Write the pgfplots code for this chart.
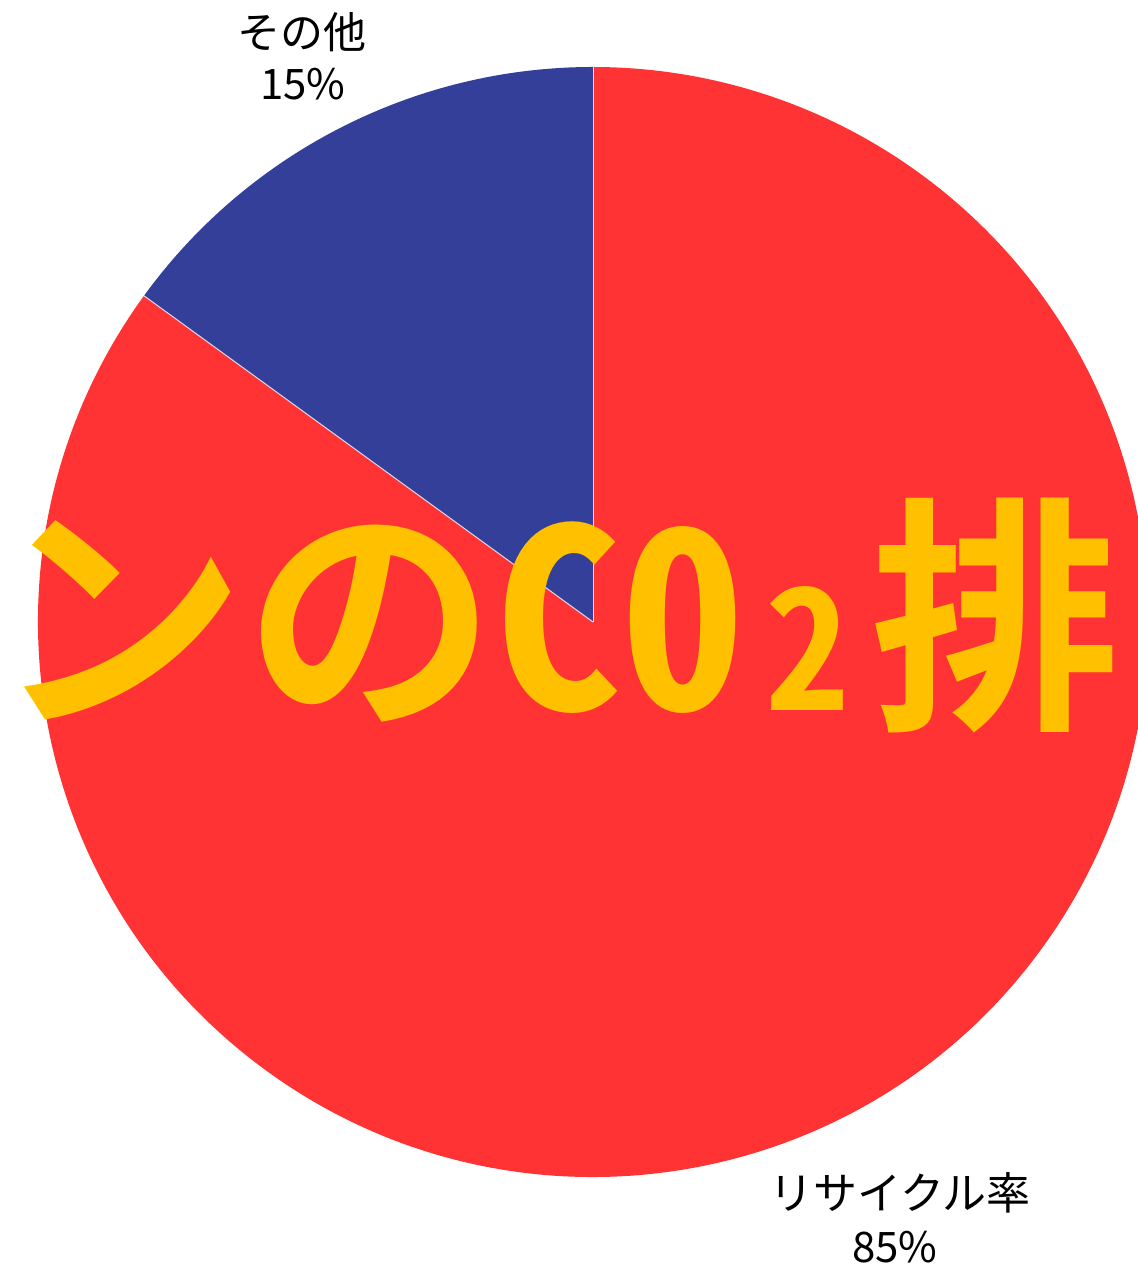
\documentclass[border=0pt]{standalone}
\usepackage{fontspec}
\setmainfont{Noto Sans CJK JP}[BoldFont={Noto Sans CJK JP Bold}]
\usepackage{pgfplots}
\usepackage{pgfplotstable}
\pgfplotsset{compat=1.18}

\definecolor{pieblue}{HTML}{333F99}
\definecolor{piered}{HTML}{FF3333}
\definecolor{bigyellow}{HTML}{FFC000}

% share of each slice, in percent, starting at 12 o'clock, counter-clockwise
\pgfplotstableread[col sep=comma]{
label,value
その他,15
リサイクル率,85
}\piedata

\begin{document}
\begin{tikzpicture}
\pgfplotstablegetelem{0}{value}\of\piedata \let\vA\pgfplotsretval
\pgfplotstablegetelem{1}{value}\of\piedata \let\vB\pgfplotsretval
\pgfmathsetmacro\aA{90+3.6*\vA}
\pgfmathsetmacro\aB{\aA+3.6*\vB}
\begin{axis}[
    scale only axis, width=568.5pt, height=634.5pt,
    xmin=0, xmax=1137, ymin=0, ymax=1269,
    axis lines=none, clip=false]
% pie: centre (593,647), radius 555 units = 277.5pt
\fill[pieblue] (axis cs:593,647) -- ++(90:277.5pt) arc[start angle=90, end angle=\aA, radius=277.5pt] -- cycle;
\fill[piered] (axis cs:593,647) -- ++(\aA:277.5pt) arc[start angle=\aA, end angle=\aB, radius=277.5pt] -- cycle;
\draw[white!80!pieblue, line width=0.5pt] (axis cs:593,647) -- ++(90:277.5pt);
\draw[white!80!pieblue, line width=0.5pt] (axis cs:593,647) -- ++(\aA:277.5pt);
% slice labels
\node[anchor=base, inner sep=0pt, font=\fontsize{21.5}{21.5}\selectfont] at (axis cs:302,1220) {その他};
\node[anchor=base, inner sep=0pt, font=\fontsize{21}{21}\selectfont] at (axis cs:303,1169) {\vA\%};
\node[anchor=base, inner sep=0pt, font=\fontsize{22}{22}\selectfont] at (axis cs:900,59) {リサイクル率};
\node[anchor=base, inner sep=0pt, font=\fontsize{21}{21}\selectfont] at (axis cs:895,6) {\vB\%};
% overlaid caption (half-width Latin, subscript 2 set small on the baseline)
\node[anchor=base west, inner sep=0pt, text=bigyellow,
      font=\bfseries\fontsize{125}{125}\selectfont] at (axis cs:0,558)
  {\kern-2.5ptンの{\addfontfeatures{RawFeature=+hwid}C0\makebox[62.5pt][c]{\fontsize{84}{84}\selectfont 2}}排};
\end{axis}
\pgfresetboundingbox
\useasboundingbox (0,0) rectangle (568.5pt,634.5pt);
\end{tikzpicture}
\end{document}
